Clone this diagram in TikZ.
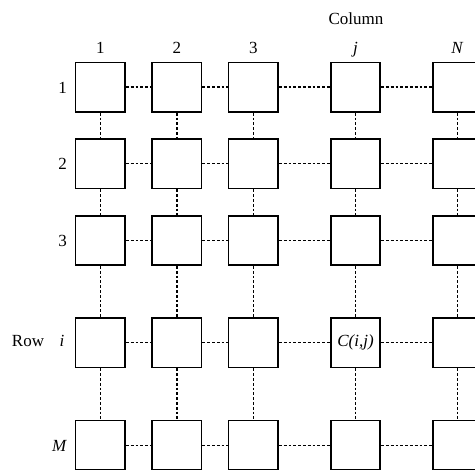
\documentclass[tikz,border=0pt]{standalone}
\usepackage{fontspec}
\setmainfont{Liberation Serif}
\begin{document}
\begin{tikzpicture}[x=1pt,y=-1pt,
  cell/.style={draw,line width=1.7pt,minimum size=49.5pt,inner sep=0pt,fill=white},
  link/.style={line width=1.4pt,dash pattern=on 2.8pt off 2pt},
  lab/.style={inner sep=0pt,anchor=base,font=\fontsize{17}{20}\selectfont}]
\useasboundingbox (0,0) rectangle (475,470);
\clip (0,0) rectangle (475,470);
% columns and rows
\def\xs{{100.3,176.8,253.3,355.5,457.5}}
\def\ys{{87.2,163.8,240.5,342.8,445.3}}
\foreach \r in {1,...,5}{
  \foreach \c in {1,...,5}{
    \pgfmathsetmacro{\xx}{\xs[\c-1]}
    \pgfmathsetmacro{\yy}{\ys[\r-1]}
    \node[cell] (b\r\c) at (\xx,\yy) {};
  }
}
\node[lab,anchor=center] (cij) at (b44.center) {\textit{C(i,j)}};
% horizontal links
\foreach \r in {1,...,5}{
  \foreach \c [evaluate=\c as \n using int(\c+1)] in {1,...,4}{
    \draw[link] (b\r\c.east) -- (b\r\n.west);
  }
}
% vertical links
\foreach \c in {1,...,5}{
  \foreach \r [evaluate=\r as \n using int(\r+1)] in {1,...,4}{
    \draw[link] (b\r\c.south) -- (b\n\c.north);
  }
}
% column labels
\node[lab] (coltitle) at (356,25) {Column};
\node[lab] (c1) at (100.3,53.3) {1};
\node[lab] (c2) at (176.8,53.3) {2};
\node[lab] (c3) at (253.3,53.3) {3};
\node[lab] (cj) at (355.5,53.3) {\textit{j}};
\node[lab] (cN) at (457.5,53.3) {\textit{N}};
% row labels
\node[lab] (r1) at (62.5,93.2) {1};
\node[lab] (r2) at (62.5,169.8) {2};
\node[lab] (r3) at (62.5,246.5) {3};
\node[lab] (ri) at (62,347) {\textit{i}};
\node[lab] (rowtitle) at (28,347) {Row};
\node[lab] (rM) at (59.5,451.5) {\textit{M}};
\end{tikzpicture}
\end{document}
